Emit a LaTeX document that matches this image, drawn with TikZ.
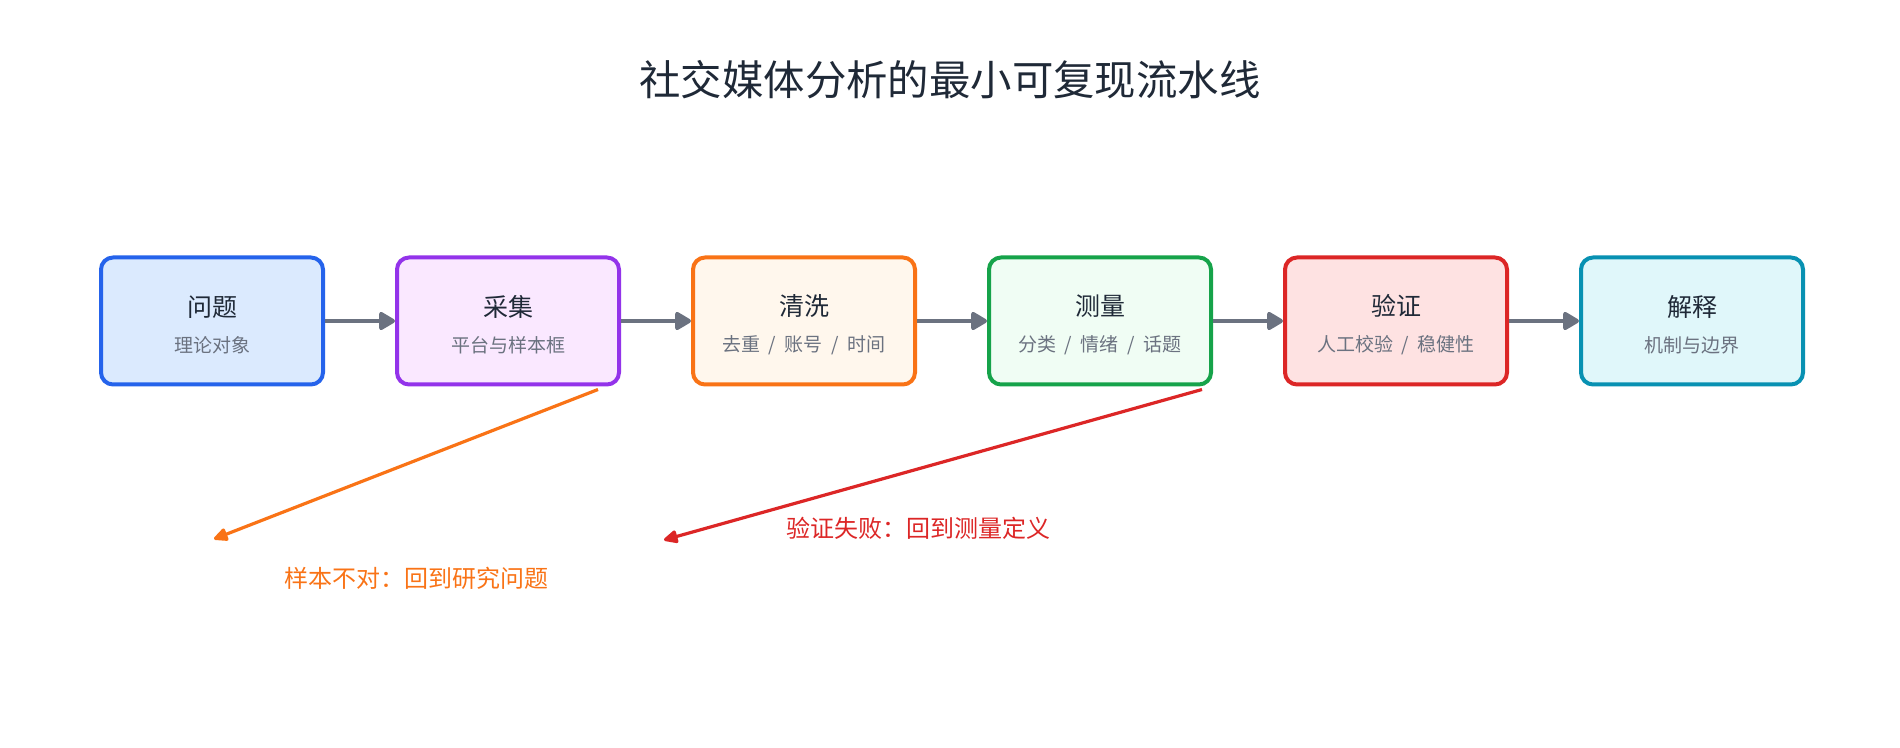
\documentclass[tikz,border=0pt]{standalone}
\usepackage{fontspec}
\setmainfont{Noto Sans CJK SC}
\usetikzlibrary{arrows.meta,calc}

\definecolor{ink}{HTML}{1F2937}
\definecolor{subgray}{HTML}{6B7280}
\definecolor{blueline}{HTML}{2563EB}
\definecolor{bluefill}{HTML}{DBEAFE}
\definecolor{purpleline}{HTML}{9333EA}
\definecolor{purplefill}{HTML}{FAE8FF}
\definecolor{orangeline}{HTML}{F97316}
\definecolor{orangefill}{HTML}{FFF7ED}
\definecolor{greenline}{HTML}{16A34A}
\definecolor{greenfill}{HTML}{F0FDF4}
\definecolor{redline}{HTML}{DC2626}
\definecolor{redfill}{HTML}{FEE2E2}
\definecolor{cyanline}{HTML}{0891B2}
\definecolor{cyanfill}{HTML}{E0F7FA}

\newcommand{\stagetext}[2]{{\fontsize{12.5}{18pt}\selectfont\color{ink}\rule{0pt}{14.6pt}#1}\\{\fontsize{9.5}{18pt}\selectfont\color{subgray}#2}}
\newcommand{\sep}{\hspace{0.45em}/\hspace{0.45em}}

\begin{document}
\begin{tikzpicture}[x=0.5pt, y=-0.5pt,
    stage/.style n args={2}{draw=#1, fill=#2, line width=2pt, rounded corners=6pt,
      minimum width=111pt, minimum height=63.5pt, align=center, inner sep=0pt,
      font=\fontsize{10}{18pt}\selectfont},
    flow/.style={color=subgray, line width=2pt, -{Triangle[length=9pt,width=10pt,round]}},
    back/.style={line width=1.6pt, -{Triangle[length=8pt,width=7pt,round]}},
    fblabel/.style={font=\fontsize{12}{14}\selectfont, inner sep=0pt}]
  \useasboundingbox (0,0) rectangle (1900,748);
  % Title
  \node[font=\fontsize{20.7}{24}\selectfont, text=ink] (title) at (950,80) {社交媒体分析的最小可复现流水线};
  % Stages
  \node[stage={blueline}{bluefill}] (b1) at (212,321) {\stagetext{问题}{理论对象}};
  \node[stage={purpleline}{purplefill}] (b2) at (508,321) {\stagetext{采集}{平台与样本框}};
  \node[stage={orangeline}{orangefill}] (b3) at (804,321) {\stagetext{清洗}{去重\sep 账号\sep 时间}};
  \node[stage={greenline}{greenfill}] (b4) at (1100,321) {\stagetext{测量}{分类\sep 情绪\sep 话题}};
  \node[stage={redline}{redfill}] (b5) at (1396,321) {\stagetext{验证}{人工校验\sep 稳健性}};
  \node[stage={cyanline}{cyanfill}] (b6) at (1692,321) {\stagetext{解释}{机制与边界}};
  % Forward flow
  \draw[flow] (b1) -- (b2);
  \draw[flow] (b2) -- (b3);
  \draw[flow] (b3) -- (b4);
  \draw[flow] (b4) -- (b5);
  \draw[flow] (b5) -- (b6);
  % Feedback loops
  \coordinate (sampleend) at (214,539);
  \coordinate (measureend) at (664,540);
  \draw[back, color=orangeline] ($(b2.south east)+(-23,3)$) -- (sampleend);
  \draw[back, color=redline] ($(b4.south east)+(-11,3)$) -- (measureend);
  \node[fblabel, text=orangeline] (samplelbl) at (416,578) {样本不对：回到研究问题};
  \node[fblabel, text=redline] (measurelbl) at (918,528) {验证失败：回到测量定义};
\end{tikzpicture}
\end{document}
